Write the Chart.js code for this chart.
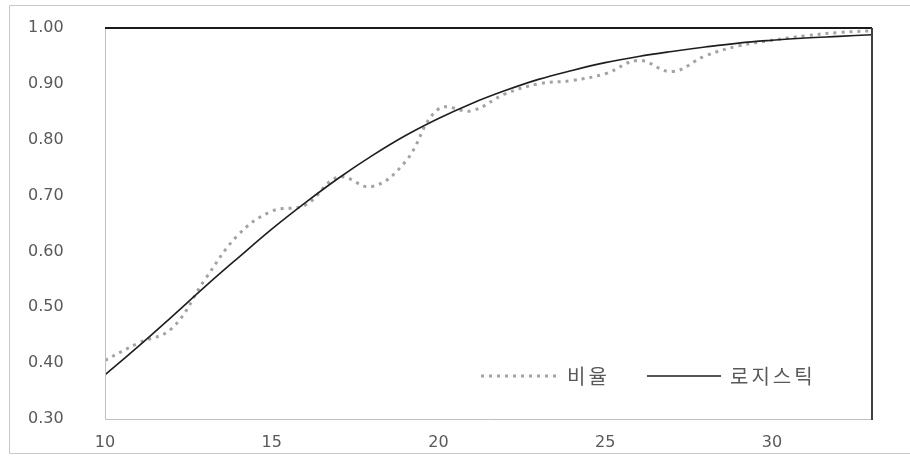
<!DOCTYPE html>
<html>
<head>
<meta charset="utf-8">
<script src="https://cdn.jsdelivr.net/npm/chart.js@4/dist/chart.umd.min.js"></script>
<style>
  html, body { margin: 0; padding: 0; background: #fff; }
  #wrap { width: 910px; height: 457px; }
</style>
</head>
<body>
<div id="wrap"><canvas id="chart" width="910" height="457"></canvas></div>
<script>
// Ratio vs logistic fit

const xValues = [10, 11, 12, 13, 14, 15, 16, 17, 18, 19, 20, 21, 22, 23, 24, 25, 26, 27, 28, 29, 30, 31, 32, 33];
const ratioValues = [0.405, 0.436, 0.462, 0.550, 0.630, 0.672, 0.683, 0.733, 0.716, 0.760, 0.855, 0.852,
  0.882, 0.900, 0.906, 0.918, 0.942, 0.922, 0.950, 0.968, 0.978, 0.986, 0.992, 0.995];
const logisticValues = [0.379, 0.430, 0.483, 0.537, 0.589, 0.640, 0.687, 0.731, 0.771, 0.807, 0.838, 0.865,
  0.888, 0.908, 0.924, 0.938, 0.949, 0.958, 0.966, 0.973, 0.978, 0.982, 0.985, 0.988];
const xTicks = [10, 15, 20, 25, 30];
const yTicks = [0.3, 0.4, 0.5, 0.6, 0.7, 0.8, 0.9, 1.0];
const seriesNames = ['비율', '로지스틱'];

const TICK_COLOR = '#595959';
const TICK_FONT = { family: 'DejaVu Sans', size: 16 };

// ─── Frame + in-plot legend ────────────────────────────────────────────────

const framePlugin = {
  id: 'frame',
  beforeDraw(chart) {
    const ctx = chart.ctx;
    ctx.save();
    ctx.fillStyle = '#fff';
    ctx.fillRect(0, 0, chart.width, chart.height);
    ctx.strokeStyle = '#c8c8c8';
    ctx.lineWidth = 1;
    ctx.beginPath();
    ctx.moveTo(920, 5.5);
    ctx.lineTo(9.5, 5.5);
    ctx.lineTo(9.5, 453.5);
    ctx.lineTo(920, 453.5);
    ctx.stroke();
    ctx.restore();
  },
  afterDatasetsDraw(chart) {
    const ctx = chart.ctx;
    const { left, right, top, bottom } = chart.chartArea;
    ctx.save();
    // left + bottom axes, light gray
    ctx.strokeStyle = '#bfbfbf';
    ctx.lineWidth = 1;
    ctx.beginPath();
    ctx.moveTo(left + 0.5, top);
    ctx.lineTo(left + 0.5, bottom + 0.5);
    ctx.lineTo(right, bottom + 0.5);
    ctx.stroke();
    // top + right, dark
    ctx.strokeStyle = '#1a1a1a';
    ctx.lineWidth = 2;
    ctx.beginPath();
    ctx.moveTo(left, top);
    ctx.lineTo(right, top);
    ctx.stroke();
    ctx.strokeStyle = '#404040';
    ctx.beginPath();
    ctx.moveTo(right, top);
    ctx.lineTo(right, bottom + 1);
    ctx.stroke();

    // legend
    const items = [
      { x0: 481, x1: 556, tx: 567 },
      { x0: 647, x1: 721, tx: 730 },
    ];
    const ly = 376;
    ctx.font = '20px "Noto Sans CJK KR"';
    ctx.letterSpacing = '3px';
    ctx.textBaseline = 'middle';
    ctx.fillStyle = TICK_COLOR;
    chart.data.datasets.forEach((ds, i) => {
      const it = items[i];
      ctx.strokeStyle = ds.borderColor;
      ctx.lineWidth = ds.borderWidth;
      ctx.lineCap = 'butt';
      ctx.setLineDash(ds.borderDash || []);
      ctx.beginPath();
      ctx.moveTo(it.x0, ly);
      ctx.lineTo(it.x1, ly);
      ctx.stroke();
      ctx.setLineDash([]);
      ctx.fillText(ds.label, it.tx, ly);
    });
    ctx.restore();
  },
};

new Chart(document.getElementById('chart'), {
  type: 'line',
  data: {
    datasets: [
      {
        label: seriesNames[0],
        data: xValues.map((x, i) => ({ x, y: ratioValues[i] })),
        borderColor: '#a3a3a3',
        borderWidth: 3,
        borderDash: [3, 5],
        tension: 0.4,
        pointRadius: 0,
        order: 2,
      },
      {
        label: seriesNames[1],
        data: xValues.map((x, i) => ({ x, y: logisticValues[i] })),
        borderColor: '#1e1e1e',
        borderWidth: 1.6,
        tension: 0.4,
        pointRadius: 0,
        order: 1,
      },
    ],
  },
  options: {
    responsive: false,
    animation: false,
    layout: { padding: { top: 28, right: 38, bottom: 0, left: 28 } },
    plugins: {
      legend: { display: false },
      tooltip: { enabled: false },
    },
    scales: {
      x: {
        type: 'linear',
        min: xValues[0],
        max: xValues[xValues.length - 1],
        afterBuildTicks: s => { s.ticks = xTicks.map(v => ({ value: v })); },
        afterFit: s => { s.height = 38; },
        grid: { display: false, drawTicks: false },
        border: { display: false },
        ticks: { color: TICK_COLOR, font: TICK_FONT, padding: 14, maxRotation: 0 },
      },
      y: {
        min: yTicks[0],
        max: yTicks[yTicks.length - 1],
        afterBuildTicks: s => { s.ticks = yTicks.map(v => ({ value: v })); },
        afterFit: s => { s.width = 77; },
        grid: { display: false, drawTicks: false },
        border: { display: false },
        ticks: { color: TICK_COLOR, font: TICK_FONT, padding: 0, crossAlign: 'far', callback: v => v.toFixed(2) },
      },
    },
  },
  plugins: [framePlugin],
});
</script>
</body>
</html>
